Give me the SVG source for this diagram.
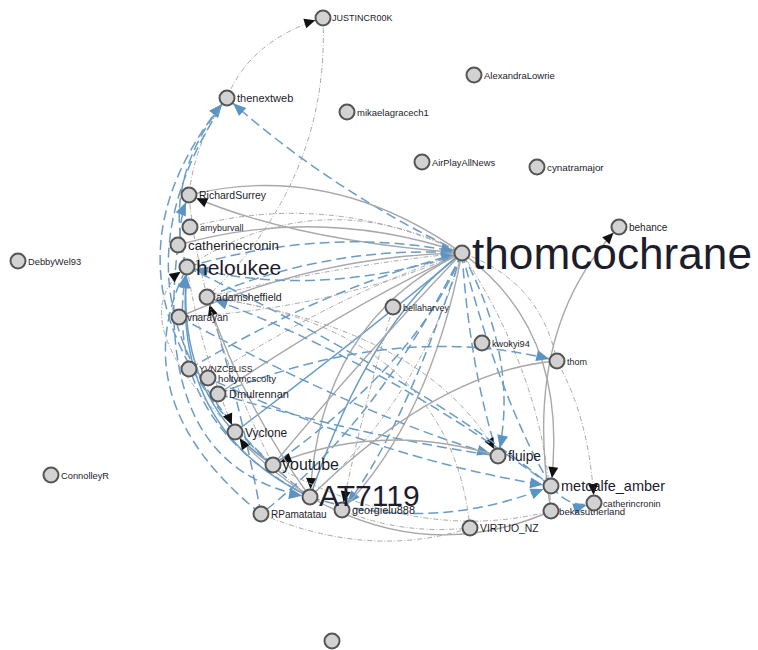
<svg xmlns="http://www.w3.org/2000/svg" width="758" height="650" viewBox="0 0 758 650">
<style>
.bg{fill:#fff}
.e{fill:none}
.g1{stroke:#a8a8a8;stroke-width:1;stroke-dasharray:5,2,1,2}
.g2{stroke:#a8a8a8;stroke-width:1.4}
.b1{stroke:#6a9cc6;stroke-width:1.5;stroke-dasharray:10,5}
.b2{stroke:#6a9cc6;stroke-width:1.5}
.ab{marker-end:url(#ab)}
.ak{marker-end:url(#ak)}
.n circle{fill:#d2d2d2;stroke:#555;stroke-width:2}
.n text{font-family:"Liberation Sans",Arial,sans-serif;fill:#1d1d2b}
</style>
<defs>
<marker id="ab" markerUnits="userSpaceOnUse" markerWidth="13" markerHeight="11" refX="21" refY="5.5" orient="auto" overflow="visible"><path d="M0,0 L13,5.5 L0,11 z" fill="#5b94c2"/></marker>
<marker id="ak" markerUnits="userSpaceOnUse" markerWidth="11" markerHeight="10" refX="19" refY="5" orient="auto" overflow="visible"><path d="M0,0 L11,5 L0,10 z" fill="#111"/></marker>
</defs>
<rect class="bg" x="0" y="0" width="758" height="650"/>
<g id="edges" class="e">
<path class="g1 ak" d="M227,98 Q250,40 323,18"/>
<path class="g1" d="M323,18 Q330,180 207,297"/>
<path class="g1" d="M189,195 Q195,140 227,98"/>
<path class="b1 ab" d="M462,253 Q330,190 227,98"/>
<path class="b1 ab" d="M187,267 Q160,180 227,98"/>
<path class="b1 ab" d="M310,497 Q60,300 227,98"/>
<path class="b1" d="M273,465 Q90,300 227,98"/>
<path class="b1 ab" d="M187,267 Q172,235 189,195"/>
<path class="g2 ak" d="M462,253 Q290,240 189,195"/>
<path class="g1" d="M187,267 Q320,180 462,253"/>
<path class="g2" d="M189,195 Q330,160 462,253"/>
<path class="g1" d="M190,227 Q330,190 462,253"/>
<path class="g2" d="M178,245 Q320,205 462,253"/>
<path class="b1 ab" d="M187,267 Q330,225 462,253"/>
<path class="b1" d="M207,297 Q330,245 462,253"/>
<path class="g1" d="M207,297 Q340,265 462,253"/>
<path class="g2" d="M179,317 Q320,255 462,253"/>
<path class="b1 ab" d="M189,369 Q330,285 462,253"/>
<path class="g1" d="M208,378 Q345,290 462,253"/>
<path class="g2" d="M218,394 Q350,305 462,253"/>
<path class="b2" d="M235,432 Q370,330 462,253"/>
<path class="b1 ab" d="M462,253 Q320,300 187,267"/>
<path class="g1" d="M462,253 Q330,310 179,317"/>
<path class="b2" d="M462,253 Q370,320 310,497"/>
<path class="g2" d="M462,253 Q360,360 273,465"/>
<path class="g1" d="M462,253 Q420,400 310,497"/>
<path class="g2 ak" d="M462,253 Q320,320 310,497"/>
<path class="b1 ab" d="M462,253 Q400,440 342,510"/>
<path class="b1" d="M462,253 Q380,420 261,514"/>
<path class="b1" d="M462,253 Q420,360 273,465"/>
<path class="g2" d="M462,253 Q430,420 342,510"/>
<path class="b1 ab" d="M462,253 Q520,360 498,456"/>
<path class="b1" d="M462,253 Q470,370 498,456"/>
<path class="g2 ak" d="M462,253 Q570,330 551,486"/>
<path class="g1" d="M462,253 Q540,280 557,361"/>
<path class="g1 ak" d="M557,361 Q590,420 594,503"/>
<path class="g2 ak" d="M551,511 Q520,330 619,227"/>
<path class="g1" d="M462,253 Q545,380 551,511"/>
<path class="b1" d="M462,253 Q500,400 551,486"/>
<path class="g1 ak" d="M207,297 Q430,330 498,456"/>
<path class="b1 ab" d="M179,317 Q370,420 498,456"/>
<path class="b1" d="M218,394 Q380,440 498,456"/>
<path class="b1" d="M187,267 Q420,380 551,486"/>
<path class="b1 ab" d="M189,369 Q380,460 551,486"/>
<path class="b1 ab" d="M310,497 Q430,535 551,486"/>
<path class="b1 ab" d="M218,394 Q400,320 557,361"/>
<path class="b1 ab" d="M551,486 Q570,510 594,503"/>
<path class="g1" d="M261,514 Q370,560 470,528"/>
<path class="g2" d="M310,497 Q430,565 551,511"/>
<path class="g1" d="M342,510 Q400,535 470,528"/>
<path class="g1" d="M273,465 Q420,545 551,511"/>
<path class="g1" d="M207,297 Q450,330 470,528"/>
<path class="g2" d="M310,497 Q440,370 557,361"/>
<path class="b2" d="M187,267 Q170,430 310,497"/>
<path class="b2 ab" d="M273,465 Q175,400 187,267"/>
<path class="b1 ab" d="M310,497 Q158,420 187,267"/>
<path class="b1 ab" d="M178,245 Q150,470 310,497"/>
<path class="b1" d="M261,514 Q120,400 187,267"/>
<path class="b1" d="M261,514 Q240,400 207,297"/>
<path class="g1 ak" d="M187,267 Q200,350 235,432"/>
<path class="g2 ak" d="M310,497 Q255,460 235,432"/>
<path class="g2 ak" d="M498,456 Q380,420 273,465"/>
<path class="g2 ak" d="M310,497 Q240,400 207,297"/>
<path class="b1 ab" d="M551,486 Q380,360 207,297"/>
<path class="g1 ak" d="M310,497 Q100,330 187,267"/>
<path class="g1 ak" d="M393,307 Q360,420 342,510"/>
<path class="g1" d="M273,465 Q200,320 189,195"/>
</g>
<g id="n-JUSTINCR00K" class="n"><circle cx="323" cy="18" r="7.5"/><text x="332" y="21" font-size="9">JUSTINCR00K</text></g>
<g id="n-thenextweb" class="n"><circle cx="227" cy="98" r="7.5"/><text x="237" y="102" font-size="11">thenextweb</text></g>
<g id="n-mikaelagracech1" class="n"><circle cx="347" cy="112" r="7.5"/><text x="357" y="115.5" font-size="9.5">mikaelagracech1</text></g>
<g id="n-AlexandraLowrie" class="n"><circle cx="474" cy="75" r="7.5"/><text x="484" y="78.5" font-size="9.5">AlexandraLowrie</text></g>
<g id="n-AirPlayAllNews" class="n"><circle cx="422" cy="162" r="7.5"/><text x="432" y="165.5" font-size="9.3">AirPlayAllNews</text></g>
<g id="n-cynatramajor" class="n"><circle cx="537" cy="167" r="7.5"/><text x="547" y="170.5" font-size="9.8">cynatramajor</text></g>
<g id="n-RichardSurrey" class="n"><circle cx="189" cy="195" r="7.5"/><text x="199" y="199" font-size="10.5">RichardSurrey</text></g>
<g id="n-amyburvall" class="n"><circle cx="190" cy="227" r="7.5"/><text x="200" y="230.5" font-size="9">amyburvall</text></g>
<g id="n-catherinecronin" class="n"><circle cx="178" cy="245" r="7.5"/><text x="188" y="250" font-size="13.3">catherinecronin</text></g>
<g id="n-heloukee" class="n"><circle cx="187" cy="267" r="7.5"/><text x="196" y="275" font-size="21">heloukee</text></g>
<g id="n-adamsheffield" class="n"><circle cx="207" cy="297" r="7.5"/><text x="216" y="301" font-size="10.6">adamsheffield</text></g>
<g id="n-vnarayan" class="n"><circle cx="179" cy="317" r="7.5"/><text x="187" y="320.5" font-size="10">vnarayan</text></g>
<g id="n-bellaharvey" class="n"><circle cx="393" cy="307" r="7.5"/><text x="403" y="310.5" font-size="9">bellaharvey</text></g>
<g id="n-thomcochrane" class="n"><circle cx="462" cy="253" r="7.5"/><text x="472" y="269" font-size="44" textLength="280" lengthAdjust="spacingAndGlyphs">thomcochrane</text></g>
<g id="n-behance" class="n"><circle cx="619" cy="227" r="7.5"/><text x="629" y="230.5" font-size="10">behance</text></g>
<g id="n-kwokyi94" class="n"><circle cx="482" cy="343" r="7.5"/><text x="492" y="346.5" font-size="9.2">kwokyi94</text></g>
<g id="n-thom" class="n"><circle cx="557" cy="361" r="7.5"/><text x="567" y="364.5" font-size="9">thom</text></g>
<g id="n-fluipe" class="n"><circle cx="498" cy="456" r="7.5"/><text x="508" y="461" font-size="13.8">fluipe</text></g>
<g id="n-metcalfe_amber" class="n"><circle cx="551" cy="486" r="7.5"/><text x="561" y="491" font-size="14.5">metcalfe_amber</text></g>
<g id="n-bekasutherland" class="n"><circle cx="551" cy="511" r="7.5"/><text x="559" y="515" font-size="9.7">bekasutherland</text></g>
<g id="n-catherincronin" class="n"><circle cx="594" cy="503" r="7.5"/><text x="603" y="507" font-size="9.2">catherincronin</text></g>
<g id="n-VIRTUO_NZ" class="n"><circle cx="470" cy="528" r="7.5"/><text x="480" y="532" font-size="10.4">VIRTUO_NZ</text></g>
<g id="n-YVNZCBLISS" class="n"><circle cx="189" cy="369" r="7.5"/><text x="199" y="372" font-size="8.6">YVNZCBLISS</text></g>
<g id="n-holtymcscolty" class="n"><circle cx="208" cy="378" r="7.5"/><text x="218" y="381.5" font-size="9.7">holtymcscolty</text></g>
<g id="n-Dmulrennan" class="n"><circle cx="218" cy="394" r="7.5"/><text x="229" y="398" font-size="11">Dmulrennan</text></g>
<g id="n-Vyclone" class="n"><circle cx="235" cy="432" r="7.5"/><text x="245" y="436.5" font-size="12">Vyclone</text></g>
<g id="n-youtube" class="n"><circle cx="273" cy="465" r="7.5"/><text x="282" y="470" font-size="16">youtube</text></g>
<g id="n-RPamatatau" class="n"><circle cx="261" cy="514" r="7.5"/><text x="271" y="518" font-size="10">RPamatatau</text></g>
<g id="n-georgielu888" class="n"><circle cx="342" cy="510" r="7.5"/><text x="352" y="514" font-size="10.9">georgielu888</text></g>
<g id="n-AT7119" class="n"><circle cx="310" cy="497" r="7.5"/><text x="319" y="506" font-size="30">AT7119</text></g>
<g id="n-DebbyWel93" class="n"><circle cx="18" cy="261" r="7.5"/><text x="28" y="264.5" font-size="9.3">DebbyWel93</text></g>
<g id="n-ConnolleyR" class="n"><circle cx="51" cy="475" r="7.5"/><text x="61" y="478.5" font-size="9.3">ConnolleyR</text></g>
<g id="n-unlabeled" class="n"><circle cx="332" cy="641" r="7.5"/></g>
</svg>
